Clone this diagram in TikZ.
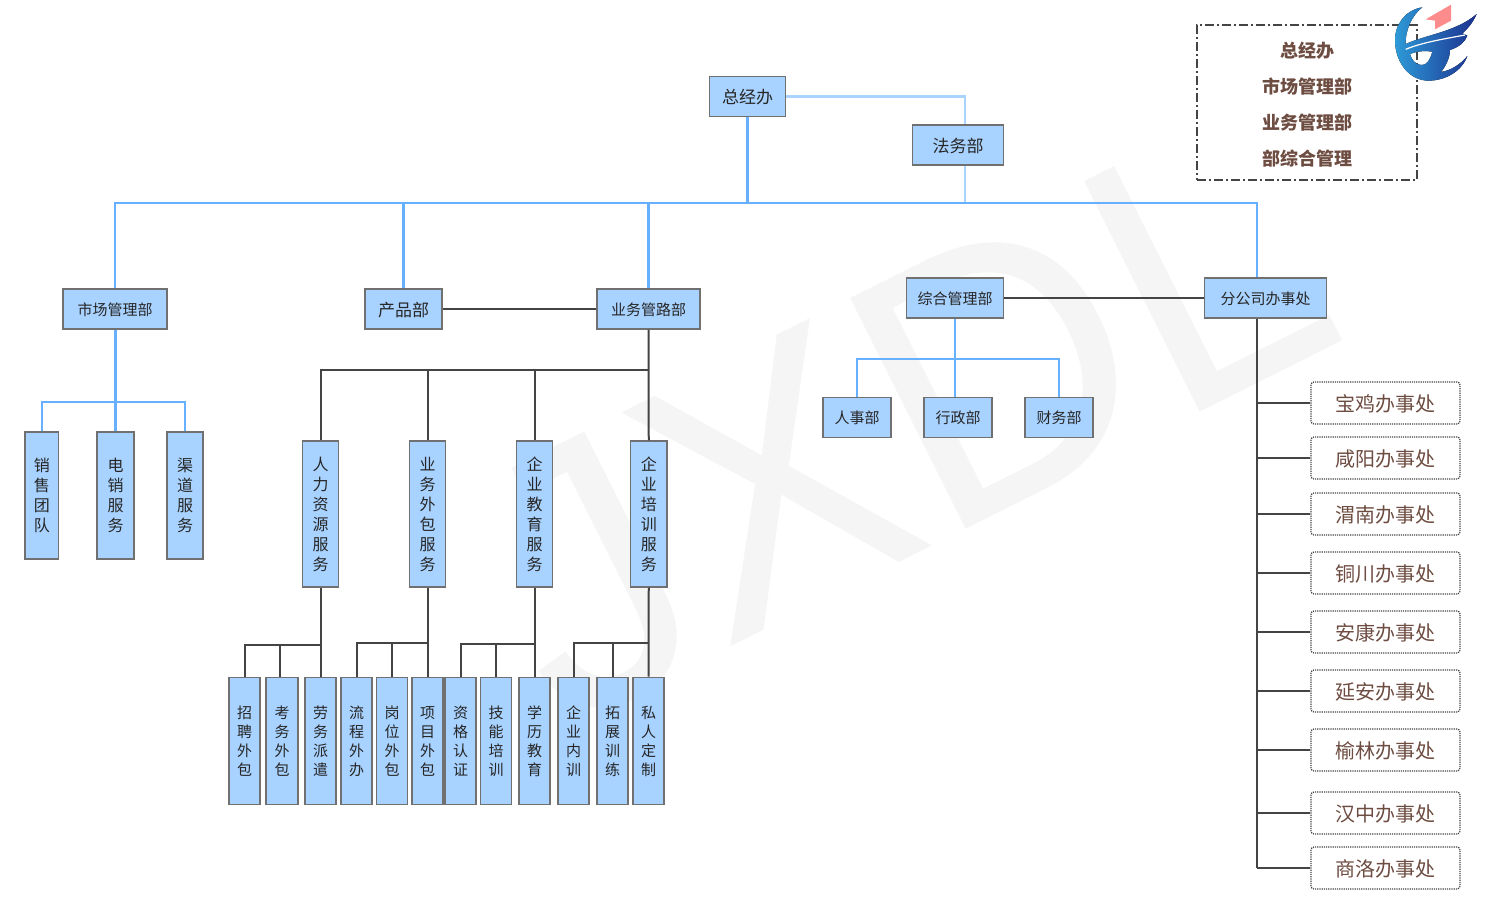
\documentclass[tikz,border=0pt]{standalone}
\usepackage{fontspec}
\setmainfont{Noto Sans CJK SC}
\newfontfamily\markfont{Liberation Sans}
\usepackage[dvipsnames,svgnames,table]{xcolor}
\usetikzlibrary{calc}
\definecolor{boxfill}{HTML}{A8D2FF}
\definecolor{boxline}{HTML}{707070}
\definecolor{linkblue}{HTML}{66B0FF}
\definecolor{linkpale}{HTML}{A8D4FF}
\definecolor{linkdark}{HTML}{444444}
\definecolor{officetext}{HTML}{6D4C41}
\definecolor{markgray}{HTML}{F5F5F5}
\definecolor{logoleft}{HTML}{2E9BD8}
\definecolor{logoright}{HTML}{1B2F8E}
\definecolor{logored}{HTML}{FF8C8C}

\begin{document}
\begin{tikzpicture}[
  x=1pt, y=-1pt,
  dept/.style={draw=boxline, line width=1.1pt, fill=boxfill, inner sep=0pt, align=center, text=black!85},
  oneline/.style={execute at begin node={\rule{0pt}{.93em}}},
  manyline/.style={execute at begin node={\rule{0pt}{1.3em}}},
  widebox/.style={dept, oneline, minimum height=40pt, font=\fontsize{15}{18}\selectfont},
  bigbox/.style={dept, oneline, minimum height=40pt, font=\fontsize{17}{20}\selectfont},
  smallbox/.style={dept, oneline, minimum width=68pt, minimum height=40pt, font=\fontsize{15}{18}\selectfont},
  tallbox/.style={dept, manyline, minimum width=36.5pt, minimum height=146pt, font=\fontsize{16}{20}\selectfont},
  midbox/.style={dept, manyline, minimum height=127pt, font=\fontsize{16}{20}\selectfont},
  leafbox/.style={dept, manyline, minimum width=31pt, minimum height=127.5pt, font=\fontsize{15}{19}\selectfont},
  office/.style={draw=linkdark, oneline, densely dotted, line width=1.2pt, rounded corners=3pt, minimum width=149pt, minimum height=42pt, inner sep=0pt, text=officetext, font=\fontsize{20}{24}\selectfont},
  legendtext/.style={oneline, inner sep=0pt, text=officetext, font=\fontsize{18}{22}\selectfont\bfseries},
  blue link/.style={linkblue, line width=2.2pt},
  pale link/.style={linkpale, line width=2.2pt},
  dark link/.style={linkdark, line width=2pt}
]
\useasboundingbox (0,0) rectangle (1485,914);

% Watermark
\node[anchor=base west, inner sep=0pt, rotate=26.6, xscale=.965, text=markgray, font=\fontsize{375}{375}\selectfont\markfont] (watermark) at (562,732) {JXDL};

% Legend box
\node[draw=linkdark, dash pattern=on 9pt off 3pt on 2pt off 3pt, line width=1.2pt, minimum width=220pt, minimum height=155pt] (legend) at (1307,102.5) {};
\node[legendtext] (legendA) at (1307,50) {总经办};
\node[legendtext] (legendB) at (1307,86) {市场管理部};
\node[legendtext] (legendC) at (1307,122) {业务管理部};
\node[legendtext] (legendD) at (1307,158) {部综合管理};

% Logo
\begin{scope}[shift={(1385,0)}, x=0.3333pt, y=-0.3333pt]
\fill[even odd rule, left color=logoleft, right color=logoright]
  (112,22) .. controls (60,30) and (28,75) .. (30,125)
  .. controls (32,190) and (75,242) .. (130,242)
  .. controls (180,242) and (230,215) .. (247,168)
  .. controls (225,195) and (195,212) .. (168,216)
  .. controls (185,195) and (195,170) .. (195,150)
  .. controls (225,140) and (240,125) .. (247,107)
  -- (232,100) .. controls (250,85) and (265,65) .. (275,42)
  .. controls (215,95) and (120,105) .. (62,132)
  .. controls (60,95) and (80,45) .. (112,22) -- cycle
  (75,162) .. controls (100,152) and (125,152) .. (142,155)
  .. controls (135,180) and (125,197) .. (108,195)
  .. controls (90,192) and (80,180) .. (75,162) -- cycle;
\draw[white, line width=1.2pt] (62,148) .. controls (110,128) and (170,118) .. (240,105);
\fill[logored] (198,14) -- (122,58) -- (150,62) -- (150,88) -- (198,62) -- cycle;
\end{scope}

% Top level
\node[bigbox, minimum width=76pt] (ceo) at (747.5,96.5) {总经办};
\node[bigbox, minimum width=91pt] (legal) at (958,145) {法务部};

% Second level
\node[widebox, minimum width=104pt] (market) at (115,309) {市场管理部};
\node[bigbox, minimum width=77pt] (product) at (403.5,309) {产品部};
\node[widebox, minimum width=103pt] (bizroute) at (648.5,309) {业务管路部};
\node[widebox, minimum width=97pt] (admin) at (955,298) {综合管理部};
\node[widebox, minimum width=122pt] (branch) at (1265.5,298) {分公司办事处};

% Market children
\node[midbox, minimum width=33.5pt] (sales) at (41.75,495.5) {销\\售\\团\\队};
\node[midbox, minimum width=37pt] (phone) at (115.5,495.5) {电\\销\\服\\务};
\node[midbox, minimum width=36pt] (channel) at (185,495.5) {渠\\道\\服\\务};

% Service columns
\node[tallbox] (hrserv) at (320.5,514) {人\\力\\资\\源\\服\\务};
\node[tallbox] (outserv) at (427.5,514) {业\\务\\外\\包\\服\\务};
\node[tallbox] (eduserv) at (534.5,514) {企\\业\\教\\育\\服\\务};
\node[tallbox] (trainserv) at (648.75,514) {企\\业\\培\\训\\服\\务};

% Leaf boxes
\node[leafbox] (leafA) at (244.5,741) {招\\聘\\外\\包};
\node[leafbox, minimum width=32pt] (leafB) at (282,741) {考\\务\\外\\包};
\node[leafbox] (leafC) at (320.5,741) {劳\\务\\派\\遣};
\node[leafbox] (leafD) at (356.5,741) {流\\程\\外\\办};
\node[leafbox] (leafE) at (392,741) {岗\\位\\外\\包};
\node[leafbox] (leafF) at (427.5,741) {项\\目\\外\\包};
\node[leafbox] (leafG) at (460.5,741) {资\\格\\认\\证};
\node[leafbox] (leafH) at (496,741) {技\\能\\培\\训};
\node[leafbox] (leafI) at (534.5,741) {学\\历\\教\\育};
\node[leafbox] (leafJ) at (573.5,741) {企\\业\\内\\训};
\node[leafbox] (leafK) at (612.5,741) {拓\\展\\训\\练};
\node[leafbox] (leafL) at (648.5,741) {私\\人\\定\\制};

% Admin children
\node[smallbox] (staff) at (857,417.5) {人事部};
\node[smallbox] (affairs) at (958,417.5) {行政部};
\node[smallbox] (finance) at (1059,417.5) {财务部};

% Offices
\node[office] (baoji) at (1385.5,403) {宝鸡办事处};
\node[office] (xianyang) at (1385.5,458) {咸阳办事处};
\node[office] (weinan) at (1385.5,514) {渭南办事处};
\node[office] (tongchuan) at (1385.5,573) {铜川办事处};
\node[office] (ankang) at (1385.5,632) {安康办事处};
\node[office] (yanan) at (1385.5,691) {延安办事处};
\node[office] (yulin) at (1385.5,750) {榆林办事处};
\node[office] (hanzhong) at (1385.5,813) {汉中办事处};
\node[office] (shangluo) at (1385.5,868) {商洛办事处};

% Junctions
\coordinate (mainbus) at (747.5,203);
\coordinate (marketbus) at (115,402);
\coordinate (adminbus) at (955,359);
\coordinate (servbus) at (648.5,369.5);
\coordinate (hrbus) at (320.5,644.5);
\coordinate (outbus) at (427.5,643);
\coordinate (edubus) at (534.5,644);
\coordinate (trainbus) at (648.75,643);
\coordinate (trunkend) at (1257,868);

% Top links
\draw[pale link] (ceo.east) -| ([xshift=7pt]legal.north);
\draw[pale link] ([xshift=7pt]legal.south) -- ([xshift=7pt]legal.south |- mainbus);
\draw[blue link, line width=3pt] (ceo.south) -- (mainbus);
\draw[blue link] (market.north) |- (mainbus);
\draw[blue link] ([xshift=-8.5pt]branch.north) |- (mainbus);
\draw[blue link] (product.north) -- (product.north |- mainbus);
\draw[blue link] (bizroute.north) -- (bizroute.north |- mainbus);

% Market links
\draw[blue link, line width=3pt] (market.south) -- (marketbus);
\draw[blue link] (sales.north) |- (marketbus);
\draw[blue link] (channel.north) |- (marketbus);
\draw[blue link] (phone.north) -- (phone.north |- marketbus);

% Admin links
\draw[dark link] (product.east) -- (bizroute.west);
\draw[dark link] (admin.east) -- (branch.west);
\draw[blue link] (admin.south) -- ([xshift=-3pt]affairs.north);
\draw[blue link] (staff.north) |- (adminbus);
\draw[blue link] (finance.north) |- (adminbus);

% Service links
\draw[dark link] (bizroute.south) -- (trainserv.north);
\draw[dark link] (hrserv.north) |- (servbus);
\draw[dark link] (outserv.north) -- (outserv.north |- servbus);
\draw[dark link] (eduserv.north) -- (eduserv.north |- servbus);

% Leaf links
\draw[dark link] (hrserv.south) -- (leafC.north);
\draw[dark link] (leafA.north) |- (hrbus);
\draw[dark link] ([xshift=-2pt]leafB.north) -- ([xshift=-2pt]leafB.north |- hrbus);
\draw[dark link] (outserv.south) -- (leafF.north);
\draw[dark link] (leafD.north) |- (outbus);
\draw[dark link] (leafE.north) -- (leafE.north |- outbus);
\draw[dark link] (eduserv.south) -- (leafI.north);
\draw[dark link] (leafG.north) |- (edubus);
\draw[dark link] (leafH.north) -- (leafH.north |- edubus);
\draw[dark link] (trainserv.south) -- (leafL.north);
\draw[dark link] (leafJ.north) |- (trainbus);
\draw[dark link] (leafK.north) -- (leafK.north |- trainbus);

% Office links
\draw[dark link] ([xshift=-8.5pt]branch.south) -- (trunkend);
\draw[dark link] (baoji.west) -- (baoji.west -| trunkend);
\draw[dark link] (xianyang.west) -- (xianyang.west -| trunkend);
\draw[dark link] (weinan.west) -- (weinan.west -| trunkend);
\draw[dark link] (tongchuan.west) -- (tongchuan.west -| trunkend);
\draw[dark link] (ankang.west) -- (ankang.west -| trunkend);
\draw[dark link] (yanan.west) -- (yanan.west -| trunkend);
\draw[dark link] (yulin.west) -- (yulin.west -| trunkend);
\draw[dark link] (hanzhong.west) -- (hanzhong.west -| trunkend);
\draw[dark link] (shangluo.west) -- (shangluo.west -| trunkend);

\end{tikzpicture}
\end{document}
